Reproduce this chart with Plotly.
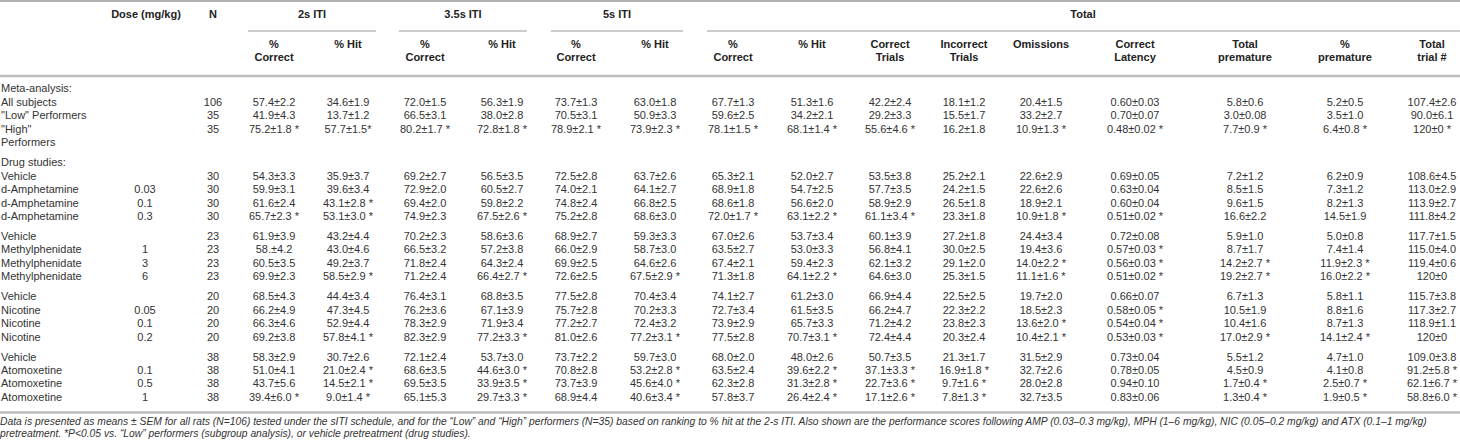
import plotly.graph_objects as go

# ---------------- data ----------------
row_labels = ["All subjects", "\"Low\" Performers", "\"High\"\nPerformers",
              "Vehicle", "d-Amphetamine", "d-Amphetamine", "d-Amphetamine",
              "Vehicle", "Methylphenidate", "Methylphenidate", "Methylphenidate",
              "Vehicle", "Nicotine", "Nicotine", "Nicotine",
              "Vehicle", "Atomoxetine", "Atomoxetine", "Atomoxetine"]
row_section = ["meta"] * 3 + ["drug"] * 16
row_group = [0, 0, 0, 0, 0, 0, 0, 1, 1, 1, 1, 2, 2, 2, 2, 3, 3, 3, 3]
section_titles = ["Meta-analysis:", "Drug studies:"]

dose = ["", "", "", "", "0.03", "0.1", "0.3", "", "1", "3", "6",
        "", "0.05", "0.1", "0.2", "", "0.1", "0.5", "1"]
n_subjects = ["106", "35", "35", "30", "30", "30", "30", "23", "23", "23", "23",
              "20", "20", "20", "20", "38", "38", "38", "38"]

iti2_correct = ["57.4±2.2", "41.9±4.3", "75.2±1.8 *", "54.3±3.3", "59.9±3.1", "61.6±2.4", "65.7±2.3 *",
                "61.9±3.9", "58.±4.2", "60.5±3.5", "69.9±2.3", "68.5±4.3", "66.2±4.9", "66.3±4.6",
                "69.2±3.8", "58.3±2.9", "51.0±4.1", "43.7±5.6", "39.4±6.0 *"]
iti2_hit = ["34.6±1.9", "13.7±1.2", "57.7±1.5*", "35.9±3.7", "39.6±3.4", "43.1±2.8 *", "53.1±3.0 *",
            "43.2±4.4", "43.0±4.6", "49.2±3.7", "58.5±2.9 *", "44.4±3.4", "47.3±4.5", "52.9±4.4",
            "57.8±4.1 *", "30.7±2.6", "21.0±2.4 *", "14.5±2.1 *", "9.0±1.4 *"]
iti35_correct = ["72.0±1.5", "66.5±3.1", "80.2±1.7 *", "69.2±2.7", "72.9±2.0", "69.4±2.0", "74.9±2.3",
                 "70.2±2.3", "66.5±3.2", "71.8±2.4", "71.2±2.4", "76.4±3.1", "76.2±3.6", "78.3±2.9",
                 "82.3±2.9", "72.1±2.4", "68.6±3.5", "69.5±3.5", "65.1±5.3"]
iti35_hit = ["56.3±1.9", "38.0±2.8", "72.8±1.8 *", "56.5±3.5", "60.5±2.7", "59.8±2.2", "67.5±2.6 *",
             "58.6±3.6", "57.2±3.8", "64.3±2.4", "66.4±2.7 *", "68.8±3.5", "67.1±3.9", "71.9±3.4",
             "77.2±3.3 *", "53.7±3.0", "44.6±3.0 *", "33.9±3.5 *", "29.7±3.3 *"]
iti5_correct = ["73.7±1.3", "70.5±3.1", "78.9±2.1 *", "72.5±2.8", "74.0±2.1", "74.8±2.4", "75.2±2.8",
                "68.9±2.7", "66.0±2.9", "69.9±2.5", "72.6±2.5", "77.5±2.8", "75.7±2.8", "77.2±2.7",
                "81.0±2.6", "73.7±2.2", "70.8±2.8", "73.7±3.9", "68.9±4.4"]
iti5_hit = ["63.0±1.8", "50.9±3.3", "73.9±2.3 *", "63.7±2.6", "64.1±2.7", "66.8±2.5", "68.6±3.0",
            "59.3±3.3", "58.7±3.0", "64.6±2.6", "67.5±2.9 *", "70.4±3.4", "70.2±3.3", "72.4±3.2",
            "77.2±3.1 *", "59.7±3.0", "53.2±2.8 *", "45.6±4.0 *", "40.6±3.4 *"]
total_correct = ["67.7±1.3", "59.6±2.5", "78.1±1.5 *", "65.3±2.1", "68.9±1.8", "68.6±1.8", "72.0±1.7 *",
                 "67.0±2.6", "63.5±2.7", "67.4±2.1", "71.3±1.8", "74.1±2.7", "72.7±3.4", "73.9±2.9",
                 "77.5±2.8", "68.0±2.0", "63.5±2.4", "62.3±2.8", "57.8±3.7"]
total_hit = ["51.3±1.6", "34.2±2.1", "68.1±1.4 *", "52.0±2.7", "54.7±2.5", "56.6±2.0", "63.1±2.2 *",
             "53.7±3.4", "53.0±3.3", "59.4±2.3", "64.1±2.2 *", "61.2±3.0", "61.5±3.5", "65.7±3.3",
             "70.7±3.1 *", "48.0±2.6", "39.6±2.2 *", "31.3±2.8 *", "26.4±2.4 *"]
correct_trials = ["42.2±2.4", "29.2±3.3", "55.6±4.6 *", "53.5±3.8", "57.7±3.5", "58.9±2.9", "61.1±3.4 *",
                  "60.1±3.9", "56.8±4.1", "62.1±3.2", "64.6±3.0", "66.9±4.4", "66.2±4.7", "71.2±4.2",
                  "72.4±4.4", "50.7±3.5", "37.1±3.3 *", "22.7±3.6 *", "17.1±2.6 *"]
incorrect_trials = ["18.1±1.2", "15.5±1.7", "16.2±1.8", "25.2±2.1", "24.2±1.5", "26.5±1.8", "23.3±1.8",
                    "27.2±1.8", "30.0±2.5", "29.1±2.0", "25.3±1.5", "22.5±2.5", "22.3±2.2", "23.8±2.3",
                    "20.3±2.4", "21.3±1.7", "16.9±1.8 *", "9.7±1.6 *", "7.8±1.3 *"]
omissions = ["20.4±1.5", "33.2±2.7", "10.9±1.3 *", "22.6±2.9", "22.6±2.6", "18.9±2.1", "10.9±1.8 *",
             "24.4±3.4", "19.4±3.6", "14.0±2.2 *", "11.1±1.6 *", "19.7±2.0", "18.5±2.3", "13.6±2.0 *",
             "10.4±2.1 *", "31.5±2.9", "32.7±2.6", "28.0±2.8", "32.7±3.5"]
correct_latency = ["0.60±0.03", "0.70±0.07", "0.48±0.02 *", "0.69±0.05", "0.63±0.04", "0.60±0.04",
                   "0.51±0.02 *", "0.72±0.08", "0.57±0.03 *", "0.56±0.03 *", "0.51±0.02 *", "0.66±0.07",
                   "0.58±0.05 *", "0.54±0.04 *", "0.53±0.03 *", "0.73±0.04", "0.78±0.05", "0.94±0.10",
                   "0.83±0.06"]
total_premature = ["5.8±0.6", "3.0±0.08", "7.7±0.9 *", "7.2±1.2", "8.5±1.5", "9.6±1.5", "16.6±2.2",
                   "5.9±1.0", "8.7±1.7", "14.2±2.7 *", "19.2±2.7 *", "6.7±1.3", "10.5±1.9", "10.4±1.6",
                   "17.0±2.9 *", "5.5±1.2", "4.5±0.9", "1.7±0.4 *", "1.3±0.4 *"]
pct_premature = ["5.2±0.5", "3.5±1.0", "6.4±0.8 *", "6.2±0.9", "7.3±1.2", "8.2±1.3", "14.5±1.9",
                 "5.0±0.8", "7.4±1.4", "11.9±2.3 *", "16.0±2.2 *", "5.8±1.1", "8.8±1.6", "8.7±1.3",
                 "14.1±2.4 *", "4.7±1.0", "4.1±0.8", "2.5±0.7 *", "1.9±0.5 *"]
total_trials = ["107.4±2.6", "90.0±6.1", "120±0 *", "108.6±4.5", "113.0±2.9", "113.9±2.7", "111.8±4.2",
                "117.7±1.5", "115.0±4.0", "119.4±0.6", "120±0", "115.7±3.8", "117.3±2.7", "118.9±1.1",
                "120±0", "109.0±3.8", "91.2±5.8 *", "62.1±6.7 *", "58.8±6.0 *"]

top_headers = ["Dose (mg/kg)", "N", "2s ITI", "3.5s ITI", "5s ITI", "Total"]
sub_headers = ["%\nCorrect", "% Hit", "%\nCorrect", "% Hit", "%\nCorrect", "% Hit",
               "%\nCorrect", "% Hit", "Correct\nTrials", "Incorrect\nTrials", "Omissions",
               "Correct\nLatency", "Total\npremature", "%\npremature", "Total\ntrial #"]

footnote_lines = [
    "Data is presented as means ± SEM for all rats (N=106) tested under the sITI schedule, and for the "
    "“Low” and “High” performers (N=35) based on ranking to % hit at the 2-s ITI. Also shown are the "
    "performance scores following AMP (0.03–0.3 mg/kg), MPH (1–6 mg/kg), NIC (0.05–0.2 mg/kg) and "
    "ATX (0.1–1 mg/kg)",
    "pretreatment. *P<0.05 vs. “Low” performers (subgroup analysis), or vehicle pretreatment (drug studies).",
]

value_columns = [iti2_correct, iti2_hit, iti35_correct, iti35_hit, iti5_correct, iti5_hit,
                 total_correct, total_hit, correct_trials, incorrect_trials, omissions,
                 correct_latency, total_premature, pct_premature, total_trials]

# ---------------- layout (pixel grid) ----------------
W, H = 1460, 445
FONT = "Liberation Sans, Arial, Helvetica, sans-serif"
TXT = "#333333"
FS = 11
ROW_STEP = 13.4
GROUP_GAP = 6.7
META_Y0 = 103.0
DRUG_Y0 = 177.0

x_label = 1
x_dose = 145
x_n = 213
x_values = [274, 348, 425, 502, 576, 655, 733, 812, 890, 964, 1041, 1135, 1245, 1345, 1432]
top_header_x = [146, 213, 312, 463, 617, 1083]
group_spans = [(248, 376), (399, 527), (551, 683), (707, 1460)]
footnote_y = [422, 434]

# row y positions
row_y = []
meta_i = 0
drug_i = 0
for sec, g in zip(row_section, row_group):
    if sec == "meta":
        row_y.append(META_Y0 + ROW_STEP * meta_i)
        meta_i += 1
    else:
        row_y.append(DRUG_Y0 + ROW_STEP * drug_i + GROUP_GAP * g)
        drug_i += 1
section_y = [META_Y0 - ROW_STEP, DRUG_Y0 - ROW_STEP]

fig = go.Figure()

def text_trace(xs, ys, texts, pos="middle center", bold=False, italic=False, size=FS, color=TXT):
    fig.add_trace(go.Scatter(
        x=xs, y=ys, text=texts, mode="text", textposition=pos,
        textfont=dict(family=FONT, size=size, color=color,
                      weight="bold" if bold else "normal",
                      style="italic" if italic else "normal"),
        hoverinfo="skip", showlegend=False, cliponaxis=False))

# labels (allow multi-line labels placed below)
lx, ly, lt = [], [], []
for lab, y in zip(row_labels, row_y):
    for j, part in enumerate(lab.split("\n")):
        lx.append(x_label)
        ly.append(y + ROW_STEP * j)
        lt.append(part)
for t, y in zip(section_titles, section_y):
    lx.append(x_label)
    ly.append(y)
    lt.append(t)
text_trace(lx, ly, lt, pos="middle right")

text_trace([x_dose] * len(dose), row_y, dose)
text_trace([x_n] * len(n_subjects), row_y, n_subjects)
for xc, col in zip(x_values, value_columns):
    text_trace([xc] * len(col), row_y, col)

# headers
text_trace(top_header_x, [15] * len(top_headers), top_headers, bold=True, color="#222222")
hx, hy, ht = [], [], []
for xc, h in zip(x_values, sub_headers):
    for j, part in enumerate(h.split("\n")):
        hx.append(xc)
        hy.append(45 + 13.4 * j)
        ht.append(part)
text_trace(hx, hy, ht, bold=True, color="#222222")

# footnote
text_trace([0] * len(footnote_lines), footnote_y, footnote_lines, pos="middle right",
           italic=True, size=10.3)

# rules
shapes = [
    dict(type="line", x0=0, x1=W, y0=1, y1=1, line=dict(color="#b3b3b3", width=2)),
    dict(type="line", x0=0, x1=W, y0=76, y1=76, line=dict(color="#bdbdbd", width=2.5)),
    dict(type="line", x0=0, x1=W, y0=412.5, y1=412.5, line=dict(color="#bdbdbd", width=2.5)),
]
for a, b in group_spans:
    shapes.append(dict(type="line", x0=a, x1=b, y0=31, y1=31, line=dict(color="#999999", width=1)))
for s in shapes:
    s.update(xref="x", yref="y", layer="above")

fig.update_layout(
    width=W, height=H, margin=dict(l=0, r=0, t=0, b=0),
    paper_bgcolor="white", plot_bgcolor="white", shapes=shapes,
    xaxis=dict(range=[0, W], visible=False, fixedrange=True),
    yaxis=dict(range=[H, 0], visible=False, fixedrange=True),
)

fig.write_html("out.html", config={"displayModeBar": False},
               post_script="document.body.style.margin='0';")
